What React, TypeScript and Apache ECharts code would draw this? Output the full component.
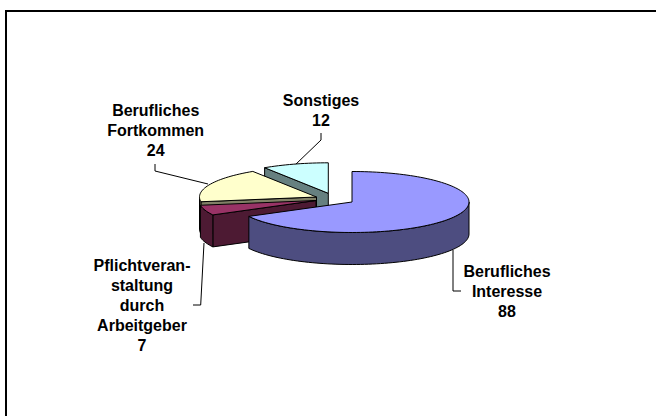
import React, { useEffect, useRef } from "react";
import * as echarts from "echarts";

const categories = ["Berufliches\nInteresse", "Pflichtveran-\nstaltung\ndurch\nArbeitgeber", "Berufliches\nFortkommen", "Sonstiges"];
const values = [88, 7, 24, 12];
const topColors = ["#9999ff", "#993366", "#ffffcc", "#ccffff"];
const sideColors = ["#4d4d80", "#4d1a33", "#808066", "#668080"];

// Layout of the exploded slices
const RX = 117;
const RY = 30.5;
const DEPTH = 32;
const apexes = [[352, 202], [316, 200.5], [316.5, 197], [328.3, 193.3]];
const labelPos = [[507, 291.7], [142, 305.5], [155.7, 130.7], [321, 110.5]];
const stackOrder = [3, 2, 1, 0];

const total = values.reduce((a, b) => a + b, 0);
const startOf = (i: number) => (values.slice(0, i).reduce((a, b) => a + b, 0) / total) * 360;

function rim(cx: number, cy: number, a: number): number[] {
  const r = (a * Math.PI) / 180;
  return [cx + RX * Math.sin(r), cy - RY * Math.cos(r)];
}
function arc(cx: number, cy: number, a0: number, a1: number): number[][] {
  const n = Math.max(2, Math.ceil(Math.abs(a1 - a0) / 2));
  const pts: number[][] = [];
  for (let k = 0; k <= n; k++) pts.push(rim(cx, cy, a0 + ((a1 - a0) * k) / n));
  return pts;
}

function renderSlice(params: any, api: any) {
  const i = params.dataIndex;
  const a0 = startOf(i);
  const a1 = a0 + (api.value(0) / total) * 360;
  const [cx, cy] = apexes[i];
  const z = stackOrder.indexOf(i) * 10;
  const edge = { stroke: "#000", lineWidth: 1, lineJoin: "round" };
  const children: any[] = [];
  if (a0 > 180) {
    const p = rim(cx, cy, a0);
    children.push({
      type: "polygon",
      z2: z,
      shape: { points: [[cx, cy], p, [p[0], p[1] + DEPTH], [cx, cy + DEPTH]] },
      style: { fill: sideColors[i], ...edge },
    });
  }
  const s0 = Math.max(a0, 90);
  const s1 = Math.min(a1, 270);
  if (s1 > s0) {
    const top = arc(cx, cy, s0, s1);
    const bottom = top.map((p) => [p[0], p[1] + DEPTH]).reverse();
    children.push({
      type: "polygon",
      z2: z + 1,
      shape: { points: [...top, ...bottom] },
      style: { fill: sideColors[i], ...edge },
    });
  }
  children.push({
    type: "polygon",
    z2: z + 2,
    shape: { points: [[cx, cy], ...arc(cx, cy, a0, a1)] },
    style: { fill: topColors[i], ...edge },
  });
  children.push({
    type: "text",
    z2: 100,
    x: labelPos[i][0],
    y: labelPos[i][1],
    style: {
      text: `${categories[i]}\n${api.value(0)}`,
      fill: "#000",
      font: 'bold 16px "Liberation Sans", Arial, sans-serif',
      lineHeight: 20,
      align: "center",
      verticalAlign: "middle",
    },
  });
  return { type: "group", children };
}

const leaders = [
  [[453, 250], [453, 291], [461, 291]],
  [[204, 243], [200.7, 305], [193, 305]],
  [[155, 164], [155, 171], [208, 184]],
  [[321, 133], [321, 140], [295, 165]],
];

export default function App() {
  const ref = useRef<HTMLDivElement>(null);
  useEffect(() => {
    const chart = echarts.init(ref.current!, undefined, { renderer: "svg" });
    chart.setOption({
      animation: false,
      backgroundColor: "#fff",
      graphic: [
        { type: "line", shape: { x1: 5, y1: 11, x2: 656, y2: 11 }, style: { stroke: "#000", lineWidth: 2 } },
        { type: "line", shape: { x1: 6, y1: 10, x2: 6, y2: 416 }, style: { stroke: "#000", lineWidth: 2 } },
        ...leaders.map((points) => ({
          type: "polyline",
          shape: { points },
          style: { stroke: "#000", lineWidth: 1, fill: "none" },
        })),
      ],
      series: [
        {
          type: "custom",
          coordinateSystem: "none",
          silent: true,
          clip: false,
          renderItem: renderSlice,
          data: values.map((v) => [v]),
        },
      ],
    });
    return () => chart.dispose();
  }, []);
  return <div ref={ref} style={{ position: "absolute", left: 0, top: 0, width: 656, height: 416 }} />;
}
